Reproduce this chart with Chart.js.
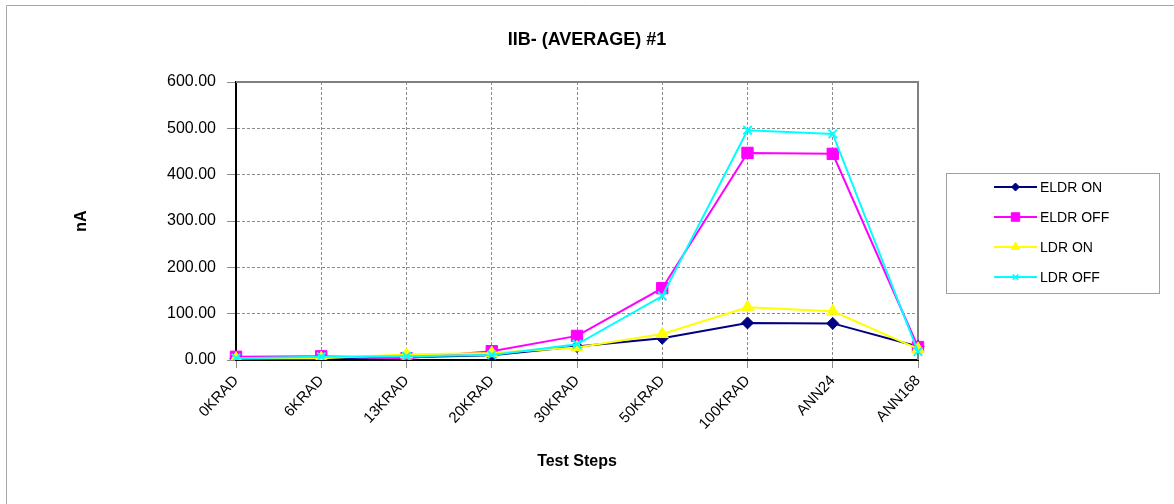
<!DOCTYPE html>
<html>
<head>
<meta charset="utf-8">
<title>IIB- (AVERAGE) #1</title>
<script src="https://cdn.jsdelivr.net/npm/chart.js@4.4.1/dist/chart.umd.min.js"></script>
<style>
    html, body { margin: 0; padding: 0; background: #fff; }
    #wrap { width: 1174px; height: 504px; }
</style>
</head>
<body>
<div id="wrap"><canvas id="iibChart" width="1174" height="504"></canvas></div>
<script>
// Test steps along the x axis
const testSteps = ['0KRAD', '6KRAD', '13KRAD', '20KRAD', '30KRAD', '50KRAD', '100KRAD', 'ANN24', 'ANN168'];

// Average IIB- current (nA) per condition
const eldrOn  = [3, 4, 6, 10, 29, 47, 80, 79, 29];
const eldrOff = [7, 8, 4, 19, 52, 155, 447, 445, 28];
const ldrOn   = [3, 4, 12, 15, 27, 56, 114, 105, 24];
const ldrOff  = [4, 7, 8, 11, 34, 138, 496, 488, 18];

const seriesNames = ['ELDR ON', 'ELDR OFF', 'LDR ON', 'LDR OFF'];
const seriesColors = ['#000080', '#FF00FF', '#FFFF00', '#00FFFF'];

const yTicks = [0, 100, 200, 300, 400, 500, 600];

const FONT = "'Liberation Sans', Arial, sans-serif";

// white background and the outer frame lines
const framePlugin = {
    id: 'frame',
    beforeDraw(chart) {
        const ctx = chart.ctx;
        ctx.save();
        ctx.fillStyle = '#fff';
        ctx.fillRect(0, 0, chart.width, chart.height);
        ctx.strokeStyle = '#a6a6a6';
        ctx.lineWidth = 1;
        ctx.beginPath();
        ctx.moveTo(6.5, chart.height);
        ctx.lineTo(6.5, 5.5);
        ctx.lineTo(chart.width, 5.5);
        ctx.stroke();
        ctx.restore();
    },
    beforeDatasetsDraw(chart) {
        // solid grey top and right edges of the plot area
        const ctx = chart.ctx;
        const a = chart.chartArea;
        ctx.save();
        ctx.strokeStyle = '#808080';
        ctx.lineWidth = 2;
        ctx.beginPath();
        ctx.moveTo(a.left, a.top);
        ctx.lineTo(a.right, a.top);
        ctx.lineTo(a.right, a.bottom);
        ctx.stroke();
        ctx.restore();
    }
};

// boxed legend at the right, like the spreadsheet one
const boxLegendPlugin = {
    id: 'boxLegend',
    afterDraw(chart) {
        const ctx = chart.ctx;
        const box = { x: 946.5, y: 173.5, w: 213, h: 120 };
        ctx.save();
        ctx.strokeStyle = '#a0a0a0';
        ctx.lineWidth = 1;
        ctx.strokeRect(box.x, box.y, box.w, box.h);

        const markerSizes = [4, 6, 5, 4];
        chart.data.datasets.forEach(function(ds, i) {
            const y = 187 + i * 30;
            ctx.strokeStyle = ds.borderColor;
            ctx.lineWidth = 2;
            ctx.beginPath();
            ctx.moveTo(994, y);
            ctx.lineTo(1037, y);
            ctx.stroke();

            ctx.fillStyle = ds.pointBackgroundColor;
            ctx.strokeStyle = ds.pointBorderColor;
            ctx.lineWidth = ds.pointStyle === 'crossRot' ? 1.5 : 1;
            Chart.helpers.drawPoint(ctx, {
                pointStyle: ds.pointStyle,
                radius: markerSizes[i],
                rotation: 0,
                borderWidth: ctx.lineWidth
            }, 1015.5, y);

            ctx.fillStyle = '#000';
            ctx.font = '14px ' + FONT;
            ctx.textAlign = 'left';
            ctx.textBaseline = 'middle';
            ctx.fillText(ds.label, 1040, y + 1);
        });
        ctx.restore();
    }
};

function makeDataset(i, values, style, radius, order) {
    return {
        label: seriesNames[i],
        data: values,
        borderColor: seriesColors[i],
        backgroundColor: seriesColors[i],
        pointBackgroundColor: seriesColors[i],
        pointBorderColor: seriesColors[i],
        pointStyle: style,
        pointRadius: radius,
        pointHoverRadius: radius,
        pointBorderWidth: style === 'crossRot' ? 2 : 1,
        borderWidth: 2,
        tension: 0,
        fill: false,
        order: order
    };
}

const ctx = document.getElementById('iibChart').getContext('2d');
const iibChart = new Chart(ctx, {
    type: 'line',
    data: {
        labels: testSteps,
        datasets: [
            makeDataset(0, eldrOn, 'rectRot', 6, 3),
            makeDataset(1, eldrOff, 'rect', 8, 2),
            makeDataset(2, ldrOn, 'triangle', 7, 1),
            makeDataset(3, ldrOff, 'crossRot', 6, 0)
        ]
    },
    options: {
        responsive: false,
        animation: false,
        devicePixelRatio: 1,
        layout: { padding: 0 },
        plugins: {
            legend: { display: false },
            tooltip: { enabled: false },
            title: {
                display: true,
                text: 'IIB- (AVERAGE) #1',
                color: '#000',
                font: { family: FONT, size: 18, weight: 'bold' },
                padding: { top: 29, bottom: 31.4 }
            }
        },
        scales: {
            x: {
                type: 'category',
                offset: false,
                afterFit: function(scale) { scale.height = 144; },
                grid: {
                    color: '#8c8c8c',
                    lineWidth: 1,
                    tickLength: 8,
                    drawOnChartArea: true
                },
                border: { display: true, color: '#000', width: 2, dash: [3, 2] },
                ticks: {
                    color: '#000',
                    font: { family: FONT, size: 15 },
                    minRotation: 47,
                    maxRotation: 47,
                    autoSkip: false,
                    padding: 4
                },
                title: {
                    display: true,
                    text: 'Test Steps',
                    color: '#000',
                    font: { family: FONT, size: 16, weight: 'bold' },
                    padding: { top: 0, bottom: 33 }
                }
            },
            y: {
                type: 'linear',
                position: 'left',
                min: 0,
                max: 600,
                afterFit: function(scale) { scale.width = 236; },
                afterBuildTicks: function(scale) {
                    scale.ticks = yTicks.map(function(v) { return { value: v }; });
                },
                grid: {
                    color: '#8c8c8c',
                    lineWidth: 1,
                    tickLength: 9
                },
                border: { display: true, color: '#000', width: 2, dash: [3, 2] },
                ticks: {
                    color: '#000',
                    font: { family: FONT, size: 16 },
                    padding: 11,
                    callback: function(v) { return Number(v).toFixed(2); }
                },
                title: {
                    display: true,
                    text: 'nA',
                    color: '#000',
                    font: { family: FONT, size: 16, weight: 'bold' },
                    padding: { top: 72, bottom: 0 }
                }
            },
            // empty axis that only reserves the room where the legend sits
            legendSpace: {
                type: 'linear',
                position: 'right',
                display: true,
                afterFit: function(scale) { scale.width = 256; },
                grid: { display: false },
                border: { display: false },
                ticks: { display: false },
                title: { display: false }
            }
        }
    },
    plugins: [framePlugin, boxLegendPlugin]
});
</script>
</body>
</html>
